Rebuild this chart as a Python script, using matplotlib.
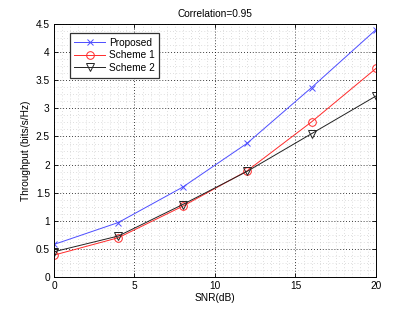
import matplotlib
matplotlib.use('Agg')
import matplotlib.pyplot as plt
from matplotlib.ticker import MultipleLocator

# values
snr = [0, 4, 8, 12, 16, 20]
proposed = [0.58, 0.97, 1.60, 2.38, 3.37, 4.40]
scheme1 = [0.39, 0.70, 1.26, 1.89, 2.76, 3.71]
scheme2 = [0.45, 0.73, 1.29, 1.88, 2.55, 3.22]

plt.rcParams['font.family'] = ['Liberation Sans', 'DejaVu Sans']
plt.rcParams['font.size'] = 7.3

fig = plt.figure(figsize=(4.15, 3.12), dpi=100)
ax = fig.add_axes([0.130, 0.112, 0.776, 0.811])

ax.plot(snr, proposed, color='#4d4dff', lw=0.7, marker='x', ms=4, mew=0.7,
        label='Proposed')
ax.plot(snr, scheme1, color='#ff2a2a', lw=0.7, marker='o', ms=5.5, mew=0.7,
        mfc='none', label='Scheme 1')
ax.plot(snr, scheme2, color='#222222', lw=0.7, marker='v', ms=5.5, mew=0.7,
        mfc='none', label='Scheme 2')

ax.set_xlim(0, 20)
ax.set_ylim(0, 4.5)
ax.xaxis.set_major_locator(MultipleLocator(5))
ax.xaxis.set_minor_locator(MultipleLocator(0.5))
ax.yaxis.set_major_locator(MultipleLocator(0.5))
ax.yaxis.set_minor_locator(MultipleLocator(0.125))
ax.yaxis.set_major_formatter(plt.FuncFormatter(lambda v, p: f'{v:g}'))

ax.grid(which='major', color='black', ls=(0, (1, 2.5)), lw=0.6)
ax.grid(which='minor', color='#c0c0c0', ls=(0, (1, 3.5)), lw=0.5)
ax.set_axisbelow(True)

ax.tick_params(which='both', direction='in', top=True, right=True)
ax.tick_params(which='major', length=3, width=0.6, pad=3)
ax.tick_params(which='minor', length=0)
for s in ax.spines.values():
    s.set_linewidth(0.7)

ax.set_xlabel('SNR(dB)', labelpad=1)
ax.set_ylabel('Throughput (bits/s/Hz)', labelpad=3)
ax.set_title('Correlation=0.95', fontsize=7.3, pad=5)

leg = ax.legend(loc='upper left', bbox_to_anchor=(0.04, 0.975), fancybox=False,
                edgecolor='#333333', framealpha=1, fontsize=7.3,
                handlelength=3.0, borderpad=0.45, labelspacing=0.25,
                handletextpad=0.4, borderaxespad=0.3)
leg.get_frame().set_linewidth(0.9)

fig.savefig('out.png', dpi=100)
